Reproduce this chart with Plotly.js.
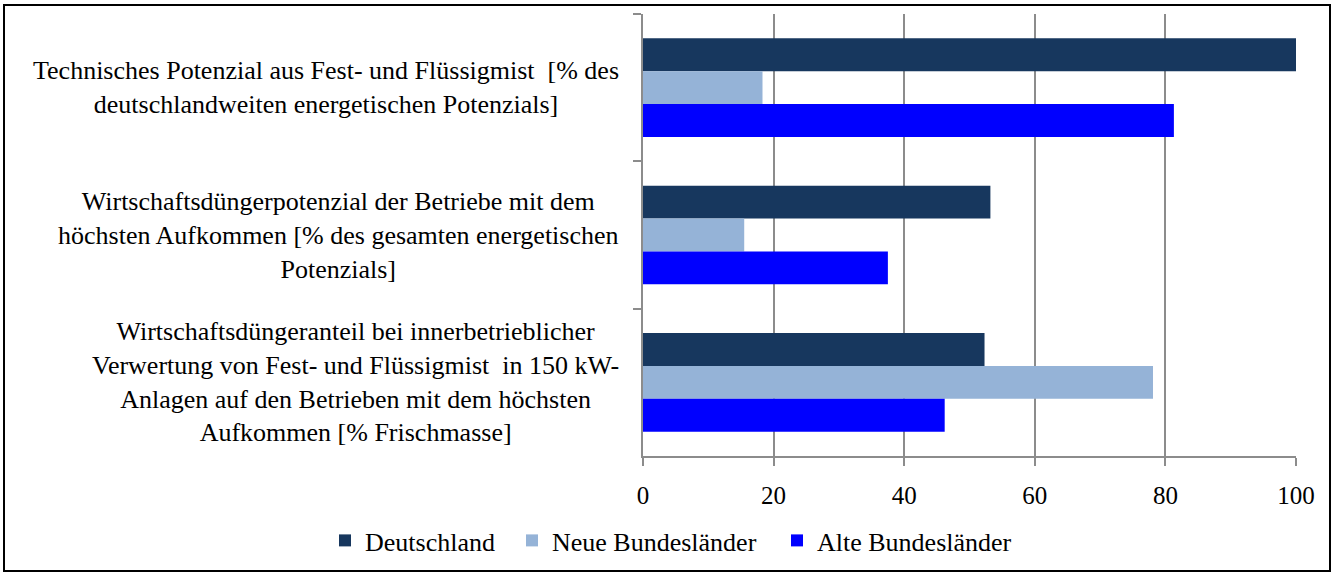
<!DOCTYPE html>
<html><head><meta charset="utf-8">
<script src="https://cdn.plot.ly/plotly-3.0.1.min.js"></script>
<style>html,body{margin:0;padding:0;background:#fff;}#wrap{position:relative;width:1335px;height:576px;}#frame{position:absolute;left:3px;top:4px;width:1328px;height:568px;border:2px solid #000;pointer-events:none;box-sizing:border-box;}</style>
</head><body><div id="wrap"><div id="chart" style="width:1335px;height:576px;"></div><div id="frame"></div></div>
<script>
const categories = ["Technisches Potenzial aus Fest- und Flüssigmist  [% des<br>deutschlandweiten energetischen Potenzials]",
  "Wirtschaftsdüngerpotenzial der Betriebe mit dem<br>höchsten Aufkommen [% des gesamten energetischen<br>Potenzials]",
  "Wirtschaftsdüngeranteil bei innerbetrieblicher<br>Verwertung von Fest- und Flüssigmist  in 150 kW-<br>Anlagen auf den Betrieben mit dem höchsten<br>Aufkommen [% Frischmasse]"];
const catKeys = ["c1","c2","c3"];
const seriesNames = ["Deutschland","Neue Bundesländer","Alte Bundesländer"];
const deutschland = [100, 53.2, 52.3];
const neueBL = [18.3, 15.5, 78.1];
const alteBL = [81.3, 37.5, 46.2];
const xTicks = [0,20,40,60,80,100];
const colors = ["#17375E","#95B3D7","#0000FF"];
const vals = [deutschland, neueBL, alteBL];
const font = "Liberation Serif";

const L=643, R=1296, W=1335;
const legendIds = ['legend','legend2','legend3'];
const legendPx = [325, 512, 777];
const traces = vals.map((v,i)=>({type:'bar',orientation:'h',name:seriesNames[i],x:v,y:catKeys,marker:{color:colors[i]},hoverinfo:'x',legend:legendIds[i]}));
const annotations = categories.map((c,i)=>({text:c,xref:'paper',yref:'y',x:(621-L)/(R-L),y:catKeys[i],xanchor:'right',yanchor:'middle',align:'center',showarrow:false,font:{family:font,size:26,color:'#000'}}));
const layout = {
  width:1335,height:576,margin:{l:L,r:W-R,t:14,b:120,autoexpand:false},
  paper_bgcolor:'#fff',plot_bgcolor:'#fff',
  barmode:'group',bargap:0.33,bargroupgap:0,
  xaxis:{range:[0,100],tickvals:xTicks,ticktext:xTicks.map(String),showgrid:true,gridcolor:'#8c8c8c',gridwidth:2,zeroline:false,showline:true,linecolor:'#8c8c8c',linewidth:2,ticks:'outside',ticklen:8,tickcolor:'#8c8c8c',tickwidth:2,ticklabelstandoff:8,tickfont:{family:font,size:25,color:'#000'},fixedrange:true},
  yaxis:{type:'category',autorange:'reversed',showticklabels:false,showgrid:false,showline:true,linecolor:'#8c8c8c',linewidth:2,ticks:'outside',ticklen:8,tickcolor:'#8c8c8c',tickwidth:2,tickson:'boundaries',zeroline:false,fixedrange:true},
  annotations:annotations,
  showlegend:true
};
legendIds.forEach((id,i)=>{
  layout[id] = {orientation:'h',x:(legendPx[i]-L)/(R-L),xanchor:'left',y:-0.138,yanchor:'top',font:{family:font,size:26,color:'#000'},itemwidth:30,bgcolor:'rgba(0,0,0,0)'};
});
Plotly.newPlot('chart',traces,layout,{displayModeBar:false,staticPlot:true});
</script></body></html>
